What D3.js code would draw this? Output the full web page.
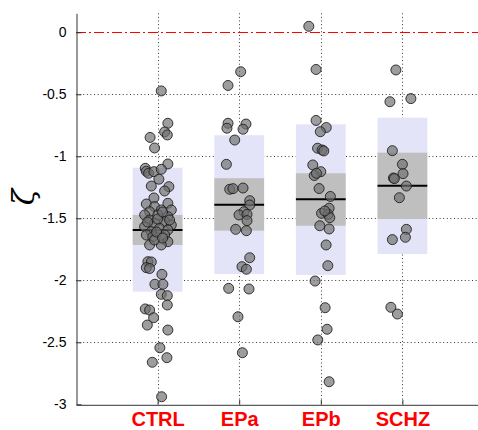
<!DOCTYPE html>
<html>
<head>
<meta charset="utf-8">
<script src="https://cdn.jsdelivr.net/npm/d3@7"></script>
<style>
  html, body { margin: 0; padding: 0; background: #fff; }
  svg { display: block; }
</style>
</head>
<body>
<svg id="chart" width="478" height="430"></svg>
<script>
// Groups on the x axis
const categories = ["CTRL", "EPa", "EPb", "SCHZ"];

// Y axis ticks
const yTicks = [0, -0.5, -1, -1.5, -2, -2.5, -3];
const yTickLabels = ["0", "-0.5", "-1", "-1.5", "-2", "-2.5", "-3"];

// Group summaries: mean, inner band (grey), outer band (lavender)
const groupMean  = [-1.595, -1.39, -1.347, -1.237];
const innerHigh  = [-1.473, -1.177, -1.137, -0.971];
const innerLow   = [-1.715, -1.600, -1.560, -1.506];
const outerHigh  = [-1.092, -0.830, -0.742, -0.689];
const outerLow   = [-2.092, -1.950, -1.957, -1.788];

// Individual subjects: ζ value and horizontal jitter (in group units)
const ctrlValues = [-0.473, -0.734, -0.804, -0.828, -0.848, -0.933, -1.062, -1.097, -1.121, -1.137,
  -1.124, -1.105, -1.185, -1.240, -1.245, -1.280, -1.336, -1.385, -1.379, -1.406,
  -1.447, -1.433, -1.433, -1.473, -1.473, -1.487, -1.514, -1.527, -1.540, -1.554,
  -1.568, -1.581, -1.594, -1.608, -1.635, -1.635, -1.648, -1.689, -1.715, -1.715,
  -1.675, -1.850, -1.852, -1.898, -1.905, -1.952, -2.032, -2.032, -2.113, -2.124,
  -2.199, -2.231, -2.240, -2.302, -2.361, -2.401, -2.544, -2.624, -2.661, -2.939,
  -1.506, -1.449, -1.530, -1.514, -1.611, -1.659];
const ctrlJitter = [0.045, 0.126, 0.086, 0.119, -0.092, -0.037, 0.126, -0.151, -0.138, -0.110,
  -0.045, 0.045, 0.016, -0.077, 0.138, 0.086, -0.045, -0.138, 0.126, -0.037,
  -0.098, 0.045, 0.168, -0.159, 0.004, 0.126, -0.098, 0.086, -0.037, 0.168,
  -0.159, 0.025, 0.126, -0.077, 0.086, -0.138, -0.058, 0.126, -0.098, 0.045,
  -0.037, -0.119, -0.077, -0.138, -0.098, 0.053, -0.033, 0.065, 0.045, 0.119,
  0.119, -0.151, -0.098, -0.049, -0.126, 0.126, 0.028, 0.114, -0.065, 0.049,
  0.000, 0.061, -0.123, 0.147, -0.012, 0.061];

const epaValues = [-0.318, -0.429, -0.734, -0.774, -0.740, -0.782, -0.869, -1.065, -1.266, -1.261,
  -1.256, -1.358, -1.393, -1.447, -1.473, -1.468, -1.519, -1.589, -1.600, -1.818,
  -1.890, -1.911, -2.065, -2.070, -2.294, -2.584];
const epaJitter = [0.018, -0.137, -0.137, -0.150, 0.083, 0.047, -0.055, -0.157, -0.116, -0.076,
  0.047, 0.129, 0.129, 0.059, -0.002, 0.096, 0.096, -0.043, 0.088, 0.129,
  0.034, 0.088, -0.129, 0.120, -0.015, 0.039];

const epbValues = [0.048, -0.300, -0.711, -0.768, -0.802, -0.935, -0.949, -0.957, -1.070, -1.124,
  -1.155, -1.137, -1.260, -1.324, -1.419, -1.460, -1.468, -1.495, -1.560, -1.586,
  -1.715, -1.882, -2.006, -2.221, -2.395, -2.481, -2.818, -1.441];
const epbJitter = [-0.147, -0.058, -0.058, 0.067, -0.006, -0.040, 0.016, 0.037, -0.098, 0.000,
  -0.080, -0.053, -0.021, 0.117, 0.102, 0.009, 0.090, 0.110, -0.012, 0.102,
  0.065, 0.086, -0.070, 0.053, 0.077, -0.037, 0.102, 0.049];

const schzValues = [-0.304, -0.560, -0.535, -0.955, -1.065, -1.140, -1.175, -1.180, -1.240, -1.334,
  -1.589, -1.653, -1.672, -2.218, -2.272];
const schzJitter = [-0.080, -0.153, 0.104, -0.123, 0.000, 0.008, -0.110, -0.098, 0.049, -0.037,
  0.049, 0.037, -0.123, -0.141, -0.061];

const groupValues = [ctrlValues, epaValues, epbValues, schzValues];
const groupJitter = [ctrlJitter, epaJitter, epbJitter, schzJitter];

// ---- layout ----
const W = 478, H = 430;
const plotLeft = 76, plotTop = 13.3, plotBottom = 404.3;
const svg = d3.select("#chart");

const x = d3.scaleLinear().domain([0, 5]).range([plotLeft, plotLeft + 5 * 81.6]);
const y = d3.scaleLinear().domain([-3, 0.153]).range([plotBottom, plotTop]);
const boxHalf = 0.305;

const font = "'Liberation Sans', Arial, Helvetica, sans-serif";

// dotted grid
const grid = svg.append("g").attr("stroke", "#3a3a3a").attr("stroke-width", 1)
  .attr("stroke-dasharray", "1,2.6");
grid.selectAll("line.h").data(yTicks.filter(t => t !== 0 && t !== -3)).join("line")
  .attr("class", "h")
  .attr("x1", plotLeft).attr("x2", W)
  .attr("y1", d => Math.round(y(d)) + 0.5).attr("y2", d => Math.round(y(d)) + 0.5);
grid.selectAll("line.v").data(categories).join("line")
  .attr("class", "v")
  .attr("x1", (d, i) => Math.round(x(i + 1)) + 0.5).attr("x2", (d, i) => Math.round(x(i + 1)) + 0.5)
  .attr("y1", plotTop).attr("y2", plotBottom);

// outer and inner bands, mean line
const boxes = svg.append("g");
boxes.selectAll("rect.outer").data(categories).join("rect")
  .attr("class", "outer")
  .attr("x", (d, i) => x(i + 1 - boxHalf))
  .attr("width", (d, i) => x(i + 1 + boxHalf) - x(i + 1 - boxHalf))
  .attr("y", (d, i) => y(outerHigh[i]))
  .attr("height", (d, i) => y(outerLow[i]) - y(outerHigh[i]))
  .attr("fill", "#e4e4f8");
boxes.selectAll("rect.inner").data(categories).join("rect")
  .attr("class", "inner")
  .attr("x", (d, i) => x(i + 1 - boxHalf))
  .attr("width", (d, i) => x(i + 1 + boxHalf) - x(i + 1 - boxHalf))
  .attr("y", (d, i) => y(innerHigh[i]))
  .attr("height", (d, i) => y(innerLow[i]) - y(innerHigh[i]))
  .attr("fill", "#bfbfbf");
boxes.selectAll("line.mean").data(categories).join("line")
  .attr("class", "mean")
  .attr("x1", (d, i) => x(i + 1 - boxHalf))
  .attr("x2", (d, i) => x(i + 1 + boxHalf))
  .attr("y1", (d, i) => y(groupMean[i])).attr("y2", (d, i) => y(groupMean[i]))
  .attr("stroke", "#000").attr("stroke-width", 2);

// reference line at zero
svg.append("line")
  .attr("x1", plotLeft).attr("x2", W)
  .attr("y1", Math.round(y(0)) + 0.5).attr("y2", Math.round(y(0)) + 0.5)
  .attr("stroke", "#ff0000").attr("stroke-width", 1)
  .attr("stroke-dasharray", "10,3,2,3");

// subjects
const pts = [];
groupValues.forEach((vals, g) => vals.forEach((v, k) => pts.push({ g, v, j: groupJitter[g][k] })));
svg.append("g").selectAll("circle").data(pts).join("circle")
  .attr("cx", d => x(d.g + 1 + d.j))
  .attr("cy", d => y(d.v))
  .attr("r", 5)
  .attr("fill", "#6e6e6e").attr("fill-opacity", 0.68)
  .attr("stroke", "#1a1a1a").attr("stroke-width", 1).attr("stroke-opacity", 0.85);

// axes
const yAxis = d3.axisLeft(y).tickValues(yTicks)
  .tickFormat((d, i) => yTickLabels[i]).tickSizeInner(-5).tickSizeOuter(0).tickPadding(10);
const gy = svg.append("g").attr("transform", `translate(${plotLeft + 0.5},0)`).call(yAxis);
gy.select(".domain").attr("stroke", "#333");
gy.selectAll(".tick line").attr("stroke", "#333");
gy.selectAll("text").attr("font-family", font).attr("font-size", 14).attr("fill", "#000");

const xAxis = d3.axisBottom(x).tickValues([1, 2, 3, 4])
  .tickFormat((d, i) => categories[i]).tickSizeInner(-5).tickSizeOuter(0).tickPadding(7);
const gx = svg.append("g").attr("transform", `translate(0,${plotBottom + 0.5})`).call(xAxis);
gx.select(".domain").attr("stroke", "#333");
gx.selectAll(".tick line").attr("stroke", "#333");
gx.selectAll("text").attr("font-family", font).attr("font-size", 20)
  .attr("font-weight", "bold").attr("fill", "#ff0000");

// y label
svg.append("text")
  .attr("transform", "translate(34,197) rotate(-90)")
  .attr("text-anchor", "middle")
  .attr("font-family", "'DejaVu Serif', serif")
  .attr("font-style", "italic")
  .attr("font-size", 30)
  .text("ζ");
</script>
</body>
</html>
